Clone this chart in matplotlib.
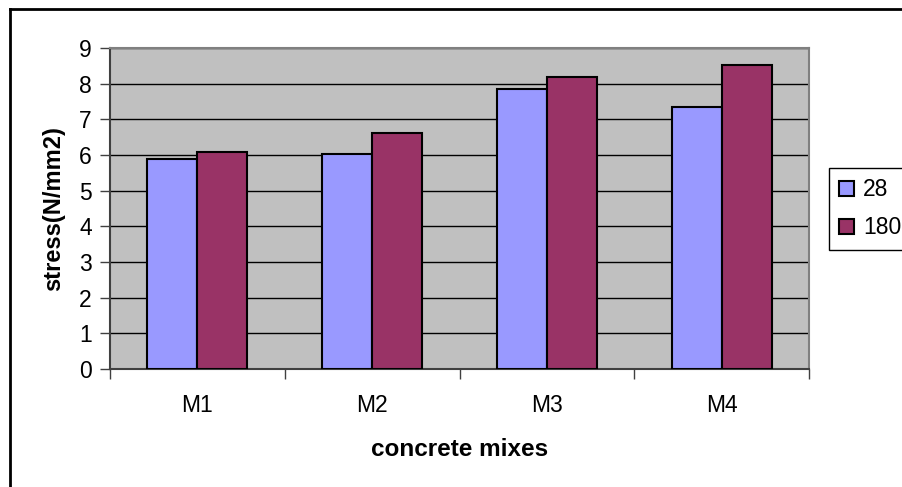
import matplotlib.pyplot as plt
from matplotlib.lines import Line2D
import numpy as np

plt.rcParams['font.family'] = ['Liberation Sans', 'DejaVu Sans']

mixes = ['M1', 'M2', 'M3', 'M4']
days = ['28', '180']
stress_28 = [5.89, 6.04, 7.84, 7.35]
stress_180 = [6.08, 6.62, 8.19, 8.51]
colors = ['#9999FF', '#993366']

fig = plt.figure(figsize=(9.02, 4.87), dpi=100)
ax = fig.add_axes([110/902, 1 - 369/487, 699/902, 321/487])
ax.set_facecolor('#C0C0C0')

x = np.arange(len(mixes))
w = 1 / 3.5
ax.bar(x - w/2, stress_28, w, color=colors[0], edgecolor='black', linewidth=1.5, label=days[0], zorder=3)
ax.bar(x + w/2, stress_180, w, color=colors[1], edgecolor='black', linewidth=1.5, label=days[1], zorder=3)

ax.set_xlim(-0.5, 3.5)
ax.set_ylim(0, 9)
ax.set_yticks(range(10))
ax.yaxis.grid(True, color='black', linewidth=1, zorder=1)
ax.set_axisbelow(True)

# ticks between categories, labels centred
ax.set_xticks(np.arange(-0.5, 4.0, 1.0))
ax.set_xticklabels([])
ax.set_xticks(x, minor=True)
ax.set_xticklabels(mixes, minor=True)
ax.tick_params(axis='x', which='minor', length=0, pad=18, labelsize=16.5)
ax.tick_params(axis='x', which='major', length=7, width=1, color='#404040', direction='out')
ax.tick_params(axis='y', length=7, width=1, color='#404040', direction='out', labelsize=16.5, pad=6)

for s in ['left', 'bottom']:
    ax.spines[s].set_color('#404040')
    ax.spines[s].set_linewidth(1.5)
for s in ['top', 'right']:
    ax.spines[s].set_color('#808080')
    ax.spines[s].set_linewidth(1.5)

ax.set_xlabel('concrete mixes', fontsize=17.5, fontweight='bold', labelpad=15)
ax.set_ylabel('stress(N/mm2)', fontsize=17, fontweight='bold', labelpad=10)

fig.legend(loc='upper left', bbox_to_anchor=(829/902, 1 - 168/487), fontsize=16.5,
           frameon=True, fancybox=False, edgecolor='black', framealpha=1,
           handlelength=0.65, handleheight=0.65, handletextpad=0.4, labelspacing=0.65,
           borderpad=0.45, borderaxespad=0)

# cropped outer chart frame (left and top only)
fig.add_artist(Line2D([10/902, 10/902], [0, 1 - 9/487], color='black', linewidth=2))
fig.add_artist(Line2D([10/902, 1], [1 - 9/487, 1 - 9/487], color='black', linewidth=2))

fig.savefig('out.png', dpi=100)
